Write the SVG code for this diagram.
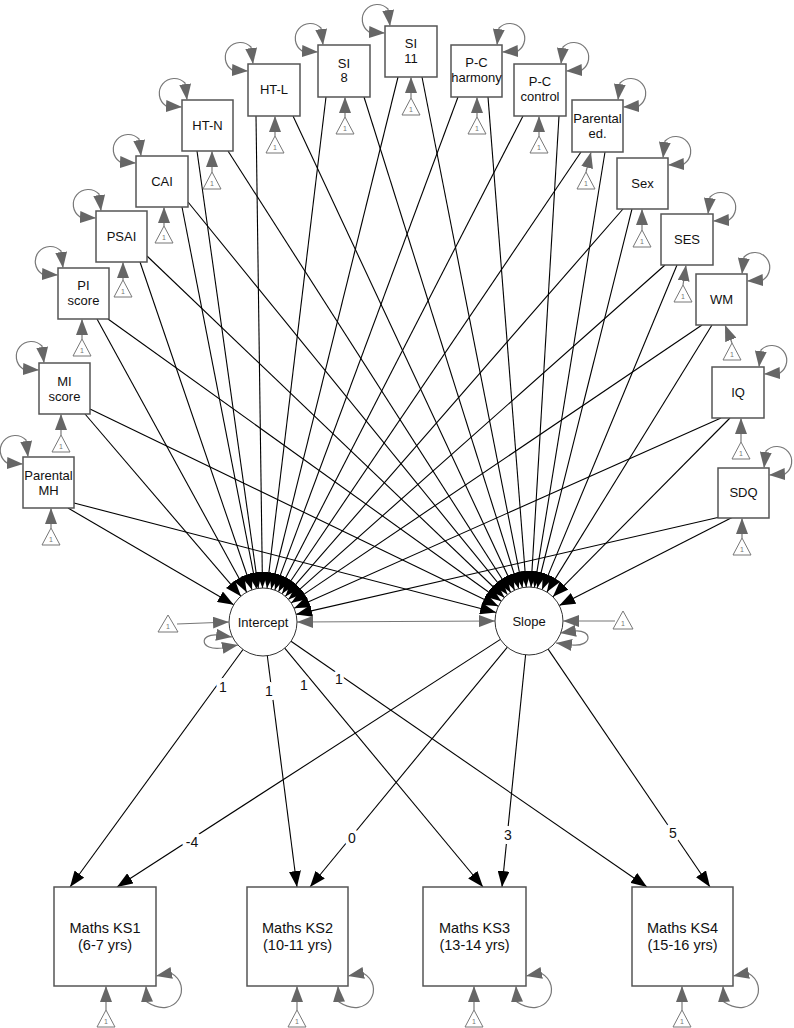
<svg xmlns="http://www.w3.org/2000/svg" width="794" height="1028" viewBox="0 0 794 1028">
<style>
.box{fill:#fff;stroke:#555;stroke-width:1.5}
.lat{fill:#fff;stroke:#333;stroke-width:1}
.t{font-family:"Liberation Sans",Arial,sans-serif;font-size:13px;fill:#111;text-anchor:middle}
.tb{font-family:"Liberation Sans",Arial,sans-serif;font-size:14.5px;fill:#111;text-anchor:middle}
.el{font-family:"Liberation Sans",Arial,sans-serif;font-size:14px;fill:#111;text-anchor:middle;stroke:#fff;stroke-width:8px;paint-order:stroke;stroke-linejoin:round}
.conn line{stroke:#000;stroke-width:1.1;marker-end:url(#ab)}
.tri{fill:none;stroke:#777;stroke-width:1}
.tt{font-family:"Liberation Sans",Arial,sans-serif;font-size:7px;fill:#777;text-anchor:middle}
.ga{stroke:#777;stroke-width:1.2;fill:none;marker-end:url(#ag)}
.loop{stroke:#777;stroke-width:1.2;fill:none;marker-start:url(#agr);marker-end:url(#ag)}
</style>
<defs>
<marker id="ab" markerUnits="userSpaceOnUse" markerWidth="16" markerHeight="12" refX="16" refY="6" orient="auto"><path d="M0,0 L16,6 L0,12 z" fill="#000"/></marker>
<marker id="ag" markerUnits="userSpaceOnUse" markerWidth="16" markerHeight="12" refX="16" refY="6" orient="auto"><path d="M0,0 L16,6 L0,12 z" fill="#666"/></marker>
<marker id="agr" markerUnits="userSpaceOnUse" markerWidth="16" markerHeight="12" refX="16" refY="6" orient="auto-start-reverse"><path d="M0,0 L16,6 L0,12 z" fill="#666"/></marker>
</defs>
<rect width="794" height="1028" fill="#fff"/>

<g id="connectors" class="conn">
<line x1="68" y1="508" x2="233.7" y2="604.8"/>
<line x1="74" y1="503" x2="496.1" y2="612.5"/>
<line x1="85" y1="414" x2="240.9" y2="596.2"/>
<line x1="90" y1="409" x2="498.4" y2="606.2"/>
<line x1="97" y1="319" x2="246.7" y2="592.2"/>
<line x1="108" y1="319" x2="501.4" y2="601.2"/>
<line x1="140" y1="262" x2="252.0" y2="589.8"/>
<line x1="147" y1="256" x2="504.4" y2="597.5"/>
<line x1="182" y1="207" x2="256.5" y2="588.6"/>
<line x1="188" y1="202" x2="507.5" y2="594.6"/>
<line x1="197" y1="151" x2="258.3" y2="588.3"/>
<line x1="228" y1="151" x2="510.7" y2="592.4"/>
<line x1="256" y1="116" x2="262.5" y2="588.0"/>
<line x1="293" y1="116" x2="514.6" y2="590.2"/>
<line x1="326" y1="97" x2="267.0" y2="588.2"/>
<line x1="364" y1="97" x2="518.8" y2="588.6"/>
<line x1="398" y1="77" x2="271.2" y2="589.0"/>
<line x1="422" y1="77" x2="522.4" y2="587.6"/>
<line x1="458" y1="97" x2="274.8" y2="590.1"/>
<line x1="488" y1="97" x2="526.3" y2="587.1"/>
<line x1="523" y1="116" x2="278.5" y2="591.8"/>
<line x1="559" y1="116" x2="531.0" y2="587.1"/>
<line x1="581" y1="152" x2="282.1" y2="593.8"/>
<line x1="605" y1="152" x2="534.4" y2="587.4"/>
<line x1="623" y1="209" x2="285.3" y2="596.4"/>
<line x1="632" y1="209" x2="537.2" y2="588.0"/>
<line x1="665" y1="265" x2="288.4" y2="599.4"/>
<line x1="677" y1="265" x2="542.1" y2="589.6"/>
<line x1="702" y1="325" x2="291.2" y2="602.9"/>
<line x1="712" y1="325" x2="546.9" y2="592.1"/>
<line x1="721" y1="418" x2="294.1" y2="608.2"/>
<line x1="730" y1="418" x2="552.9" y2="596.8"/>
<line x1="720" y1="517" x2="296.1" y2="614.4"/>
<line x1="733" y1="517" x2="559.3" y2="605.6"/>
<line x1="243.0" y1="649.5" x2="70" y2="887"/>
<line x1="267.3" y1="655.7" x2="297" y2="887"/>
<line x1="284.7" y1="648.2" x2="483" y2="887"/>
<line x1="291.0" y1="641.3" x2="647" y2="887"/>
<line x1="500.4" y1="639.4" x2="117" y2="887"/>
<line x1="507.4" y1="647.2" x2="310" y2="887"/>
<line x1="525.6" y1="654.8" x2="502" y2="887"/>
<line x1="548.1" y1="649.1" x2="710" y2="887"/>
<path class="ga" d="M297,622 L495,621" style="marker-start:url(#agr)"/>
<text class="el" x="223" y="692">1</text>
<text class="el" x="269" y="696">1</text>
<text class="el" x="304" y="690">1</text>
<text class="el" x="339" y="684">1</text>
<text class="el" x="192" y="847">-4</text>
<text class="el" x="352" y="843">0</text>
<text class="el" x="508" y="840">3</text>
<text class="el" x="673" y="838">5</text>
</g>

<g id="n-pmh"><rect class="box" x="23" y="457" width="51" height="51"/><text class="t" x="48.5" y="480">Parental</text><text class="t" x="48.5" y="495">MH</text>
<path class="loop" transform="translate(23,457)" d="M0,7 L-16,6 A15,15 0 1 1 3,-17 L5,0"/>
<line class="ga" x1="51" y1="528" x2="51" y2="508"/><polygon class="tri" points="51,528 42,545 60,545"/><text class="tt" x="51" y="542">1</text></g>
<g id="n-mi"><rect class="box" x="39" y="363" width="51" height="51"/><text class="t" x="64.5" y="386">MI</text><text class="t" x="64.5" y="401">score</text>
<path class="loop" transform="translate(39,363)" d="M0,7 L-16,6 A15,15 0 1 1 3,-17 L5,0"/>
<line class="ga" x1="61" y1="435" x2="61" y2="414"/><polygon class="tri" points="61,435 52,452 70,452"/><text class="tt" x="61" y="449">1</text></g>
<g id="n-pi"><rect class="box" x="58" y="268" width="51" height="51"/><text class="t" x="83.5" y="290">PI</text><text class="t" x="83.5" y="305">score</text>
<path class="loop" transform="translate(58,268)" d="M0,7 L-16,6 A15,15 0 1 1 3,-17 L5,0"/>
<line class="ga" x1="82" y1="339" x2="82" y2="319"/><polygon class="tri" points="82,339 73,356 91,356"/><text class="tt" x="82" y="353">1</text></g>
<g id="n-psai"><rect class="box" x="96" y="211" width="51" height="51"/><text class="t" x="121.5" y="241">PSAI</text>
<path class="loop" transform="translate(96,211)" d="M0,7 L-16,6 A15,15 0 1 1 3,-17 L5,0"/>
<line class="ga" x1="123" y1="280" x2="123" y2="262"/><polygon class="tri" points="123,280 114,297 132,297"/><text class="tt" x="123" y="294">1</text></g>
<g id="n-cai"><rect class="box" x="136" y="156" width="52" height="51"/><text class="t" x="162" y="186">CAI</text>
<path class="loop" transform="translate(136,156)" d="M0,7 L-16,6 A15,15 0 1 1 3,-17 L5,0"/>
<line class="ga" x1="164" y1="226" x2="164" y2="207"/><polygon class="tri" points="164,226 155,243 173,243"/><text class="tt" x="164" y="240">1</text></g>
<g id="n-htn"><rect class="box" x="182" y="100" width="51" height="51"/><text class="t" x="207.5" y="130">HT-N</text>
<path class="loop" transform="translate(182,100)" d="M0,7 L-16,6 A15,15 0 1 1 3,-17 L5,0"/>
<line class="ga" x1="212" y1="172" x2="212" y2="151"/><polygon class="tri" points="212,172 203,189 221,189"/><text class="tt" x="212" y="186">1</text></g>
<g id="n-htl"><rect class="box" x="248" y="64" width="52" height="52"/><text class="t" x="274" y="94">HT-L</text>
<path class="loop" transform="translate(248,64)" d="M0,7 L-16,6 A15,15 0 1 1 3,-17 L5,0"/>
<line class="ga" x1="275" y1="136" x2="275" y2="116"/><polygon class="tri" points="275,136 266,153 284,153"/><text class="tt" x="275" y="150">1</text></g>
<g id="n-si8"><rect class="box" x="318" y="45" width="52" height="52"/><text class="t" x="344" y="68">SI</text><text class="t" x="344" y="82">8</text>
<path class="loop" transform="translate(318,45)" d="M0,7 L-16,6 A15,15 0 1 1 3,-17 L5,0"/>
<line class="ga" x1="345" y1="117" x2="345" y2="97"/><polygon class="tri" points="345,117 336,134 354,134"/><text class="tt" x="345" y="131">1</text></g>
<g id="n-si11"><rect class="box" x="385" y="26" width="52" height="51"/><text class="t" x="411" y="48">SI</text><text class="t" x="411" y="63">11</text>
<path class="loop" transform="translate(385,26)" d="M0,7 L-16,6 A15,15 0 1 1 3,-17 L5,0"/>
<line class="ga" x1="411" y1="98" x2="411" y2="77"/><polygon class="tri" points="411,98 402,115 420,115"/><text class="tt" x="411" y="112">1</text></g>
<g id="n-pch"><rect class="box" x="451" y="45" width="51" height="52"/><text class="t" x="476.5" y="67">P-C</text><text class="t" x="476.5" y="82">harmony</text>
<path class="loop" transform="translate(502,45) scale(-1,1)" d="M0,7 L-16,6 A15,15 0 1 1 3,-17 L5,0"/>
<line class="ga" x1="477" y1="117" x2="477" y2="97"/><polygon class="tri" points="477,117 468,134 486,134"/><text class="tt" x="477" y="131">1</text></g>
<g id="n-pcc"><rect class="box" x="514" y="64" width="52" height="52"/><text class="t" x="540" y="86">P-C</text><text class="t" x="540" y="101">control</text>
<path class="loop" transform="translate(566,64) scale(-1,1)" d="M0,7 L-16,6 A15,15 0 1 1 3,-17 L5,0"/>
<line class="ga" x1="539" y1="136" x2="539" y2="116"/><polygon class="tri" points="539,136 530,153 548,153"/><text class="tt" x="539" y="150">1</text></g>
<g id="n-ped"><rect class="box" x="572" y="100" width="51" height="52"/><text class="t" x="597.5" y="123">Parental</text><text class="t" x="597.5" y="138">ed.</text>
<path class="loop" transform="translate(623,100) scale(-1,1)" d="M0,7 L-16,6 A15,15 0 1 1 3,-17 L5,0"/>
<line class="ga" x1="586" y1="172" x2="591" y2="152"/><polygon class="tri" points="586,172 577,189 595,189"/><text class="tt" x="586" y="186">1</text></g>
<g id="n-sex"><rect class="box" x="617" y="158" width="51" height="51"/><text class="t" x="642.5" y="188">Sex</text>
<path class="loop" transform="translate(668,158) scale(-1,1)" d="M0,7 L-16,6 A15,15 0 1 1 3,-17 L5,0"/>
<line class="ga" x1="642" y1="230" x2="642" y2="209"/><polygon class="tri" points="642,230 633,247 651,247"/><text class="tt" x="642" y="244">1</text></g>
<g id="n-ses"><rect class="box" x="661" y="214" width="52" height="51"/><text class="t" x="687" y="244">SES</text>
<path class="loop" transform="translate(713,214) scale(-1,1)" d="M0,7 L-16,6 A15,15 0 1 1 3,-17 L5,0"/>
<line class="ga" x1="683" y1="285" x2="686" y2="265"/><polygon class="tri" points="683,285 674,302 692,302"/><text class="tt" x="683" y="299">1</text></g>
<g id="n-wm"><rect class="box" x="696" y="274" width="51" height="51"/><text class="t" x="721.5" y="304">WM</text>
<path class="loop" transform="translate(747,274) scale(-1,1)" d="M0,7 L-16,6 A15,15 0 1 1 3,-17 L5,0"/>
<line class="ga" x1="732" y1="343" x2="725" y2="325"/><polygon class="tri" points="732,343 723,360 741,360"/><text class="tt" x="732" y="357">1</text></g>
<g id="n-iq"><rect class="box" x="712" y="367" width="52" height="51"/><text class="t" x="738" y="397">IQ</text>
<path class="loop" transform="translate(764,367) scale(-1,1)" d="M0,7 L-16,6 A15,15 0 1 1 3,-17 L5,0"/>
<line class="ga" x1="741" y1="442" x2="741" y2="418"/><polygon class="tri" points="741,442 732,459 750,459"/><text class="tt" x="741" y="456">1</text></g>
<g id="n-sdq"><rect class="box" x="718" y="468" width="51" height="50"/><text class="t" x="743.5" y="497">SDQ</text>
<path class="loop" transform="translate(769,468) scale(-1,1)" d="M0,7 L-16,6 A15,15 0 1 1 3,-17 L5,0"/>
<line class="ga" x1="742" y1="538" x2="742" y2="518"/><polygon class="tri" points="742,538 733,555 751,555"/><text class="tt" x="742" y="552">1</text></g>

<g id="n-intercept"><circle class="lat" cx="263" cy="622" r="34"/><text class="t" x="263" y="627">Intercept</text>
<path class="loop" d="M232,637 L218,635 C199,633 199,651 222,648 L238,645"/>
<line class="ga" x1="177" y1="624" x2="229" y2="622"/><polygon class="tri" points="168,615 158,632 178,632"/><text class="tt" x="168" y="629">1</text></g>
<g id="n-slope"><circle class="lat" cx="529" cy="621" r="34"/><text class="t" x="529" y="626">Slope</text>
<path class="loop" d="M560,633 L574,631 C593,629 593,647 572,645 L556,643"/>
<line class="ga" x1="615" y1="621" x2="563" y2="621"/><polygon class="tri" points="623,611 613,629 633,629"/><text class="tt" x="623" y="626">1</text></g>

<g id="n-ks1"><rect class="box" x="54" y="887" width="102" height="99"/><text class="tb" x="105" y="933">Maths KS1</text><text class="tb" x="105" y="950">(6-7 yrs)</text>
<path class="loop" transform="translate(156,986)" d="M0,-10 L15,-13 C38,0 20,35 -9,16 L-10,0"/>
<line class="ga" x1="106" y1="1010" x2="106" y2="986"/><polygon class="tri" points="106,1010 97,1027 115,1027"/><text class="tt" x="106" y="1024">1</text></g>
<g id="n-ks2"><rect class="box" x="247" y="887" width="101" height="99"/><text class="tb" x="297.5" y="933">Maths KS2</text><text class="tb" x="297.5" y="950">(10-11 yrs)</text>
<path class="loop" transform="translate(348,986)" d="M0,-10 L15,-13 C38,0 20,35 -9,16 L-10,0"/>
<line class="ga" x1="297" y1="1010" x2="297" y2="986"/><polygon class="tri" points="297,1010 288,1027 306,1027"/><text class="tt" x="297" y="1024">1</text></g>
<g id="n-ks3"><rect class="box" x="423" y="887" width="103" height="99"/><text class="tb" x="474.5" y="933">Maths KS3</text><text class="tb" x="474.5" y="950">(13-14 yrs)</text>
<path class="loop" transform="translate(526,986)" d="M0,-10 L15,-13 C38,0 20,35 -9,16 L-10,0"/>
<line class="ga" x1="474" y1="1010" x2="474" y2="986"/><polygon class="tri" points="474,1010 465,1027 483,1027"/><text class="tt" x="474" y="1024">1</text></g>
<g id="n-ks4"><rect class="box" x="632" y="887" width="101" height="99"/><text class="tb" x="682.5" y="933">Maths KS4</text><text class="tb" x="682.5" y="950">(15-16 yrs)</text>
<path class="loop" transform="translate(733,986)" d="M0,-10 L15,-13 C38,0 20,35 -9,16 L-10,0"/>
<line class="ga" x1="682" y1="1010" x2="682" y2="986"/><polygon class="tri" points="682,1010 673,1027 691,1027"/><text class="tt" x="682" y="1024">1</text></g>
</svg>
